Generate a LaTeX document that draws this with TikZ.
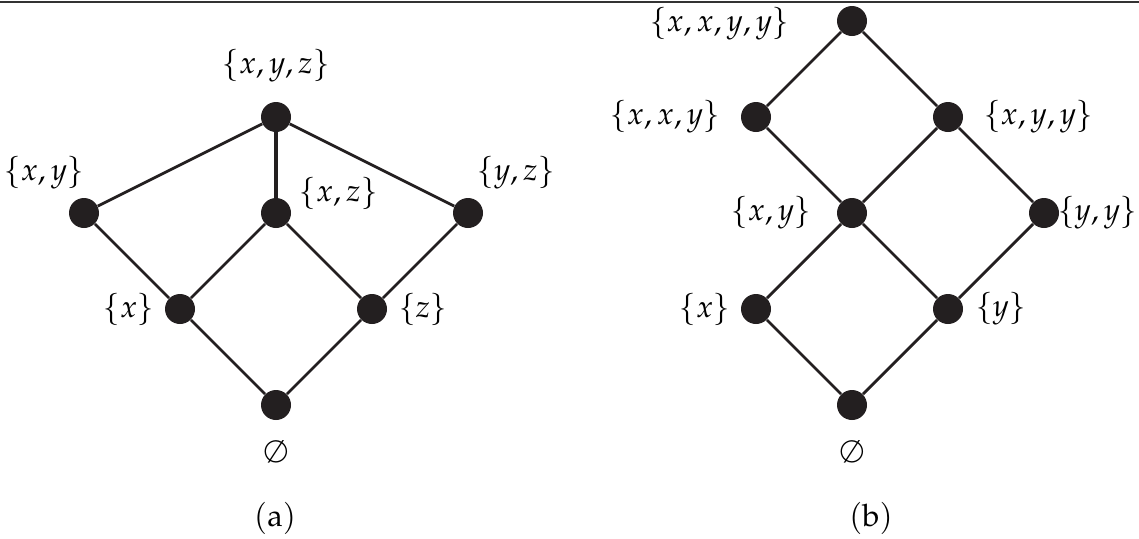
\documentclass[tikz,border=0pt]{standalone}
\usepackage{mathpazo}
\usetikzlibrary{positioning}
\definecolor{dotgray}{HTML}{231F20}

\begin{document}
\begin{tikzpicture}[
    font=\fontsize{15.5}{18}\selectfont,
    elem/.style={circle, fill=dotgray, inner sep=0pt, minimum size=15pt},
    every label/.style={inner sep=0pt, font=\fontsize{15.5}{18}\selectfont},
    link/.style={draw=dotgray, line width=1.4pt},
    on grid, node distance=48pt and 48pt]
  \useasboundingbox (0,0) rectangle (569.5pt,269pt);
  \coordinate (rl) at (0,268pt);
  \coordinate (rr) at (569.5pt,268pt);
  \draw[line width=1pt, black!80] (rl) -- (rr);

  % (a) subsets of {x,y,z}
  \node[elem, label={[label distance=10pt]below:$\emptyset$}] (a0) at (138pt,66.5pt) {};
  \node[elem, above left=of a0, label={[label distance=5pt]left:$\{x\}$}] (ax) {};
  \node[elem, above right=of a0, label={[label distance=5.5pt]right:$\{z\}$}] (az) {};
  \node[elem, above left=of ax, label={[label distance=4.25pt, xshift=-20pt]above:$\{x,y\}$}] (axy) {};
  \node[elem, above right=of ax, label={[label distance=3.75pt, yshift=10pt]right:$\{x,z\}$}] (axz) {};
  \node[elem, above right=of az, label={[label distance=4.25pt, xshift=24pt]above:$\{y,z\}$}] (ayz) {};
  \node[elem, above=of axz, label={[label distance=9.5pt]above:$\{x,y,z\}$}] (axyz) {};
  \draw[link] (a0) -- (ax) (a0) -- (az) (ax) -- (axy) (ax) -- (axz)
              (az) -- (axz) (az) -- (ayz) (axy) -- (axyz) (ayz) -- (axyz);
  \draw[link, line width=2.2pt] (axz) -- (axyz);
  \node (capa) at (137.5pt,10pt) {$(\mathrm{a})$};

  % (b) multisets
  \node[elem, label={[label distance=10pt]below:$\emptyset$}] (b0) at (426pt,66.5pt) {};
  \node[elem, above left=of b0, label={[label distance=5pt]left:$\{x\}$}] (bx) {};
  \node[elem, above right=of b0, label={[label distance=6pt]right:$\{y\}$}] (by) {};
  \node[elem, above right=of bx, label={[label distance=12.5pt]left:$\{x,y\}$}] (bxy) {};
  \node[elem, above right=of by, label={[label distance=-1pt]right:$\{y,y\}$}] (byy) {};
  \node[elem, above left=of bxy, label={[label distance=10pt]left:$\{x,x,y\}$}] (bxxy) {};
  \node[elem, above right=of bxy, label={[label distance=10pt]right:$\{x,y,y\}$}] (bxyy) {};
  \node[elem, above right=of bxxy, label={[label distance=23.5pt, yshift=-1.5pt]left:$\{x,x,y,y\}$}] (bxxyy) {};
  \draw[link] (b0) -- (bx) (b0) -- (by) (bx) -- (bxy) (by) -- (bxy) (by) -- (byy)
              (bxy) -- (bxxy) (bxy) -- (bxyy) (byy) -- (bxyy)
              (bxxy) -- (bxxyy) (bxyy) -- (bxxyy);
  \node (capb) at (435.5pt,10pt) {$(\mathrm{b})$};
\end{tikzpicture}
\end{document}
